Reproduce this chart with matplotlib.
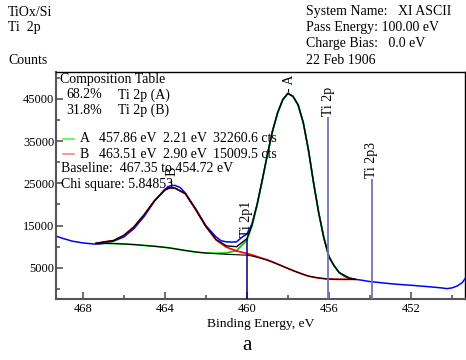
import numpy as np
import matplotlib
matplotlib.use('Agg')
import matplotlib.pyplot as plt

plt.rcParams['font.family'] = ['Liberation Serif', 'DejaVu Serif']
plt.rcParams['font.size'] = 10

# raw spectrum (blue)
e_data = [469.32, 469.0, 468.5, 468.0, 467.5, 467.25, 467.0, 466.5, 466.0, 465.5,
          465.0, 464.5, 464.0, 463.75, 463.5, 463.25, 463.0, 462.5, 462.0, 461.5,
          461.25, 461.0, 460.75, 460.5, 460.25, 460.0, 459.75, 459.5, 459.25, 459.0,
          458.75, 458.5, 458.25, 458.0, 457.75, 457.5, 457.25, 457.0, 456.75, 456.5,
          456.25, 456.0, 455.75, 455.5, 455.25, 455.0, 454.75, 454.5, 454.0, 453.5,
          453.0, 452.5, 452.0, 451.5, 451.0, 450.5, 450.25, 450.0, 449.75, 449.5, 449.35]
counts = [12530, 12000, 11300, 10900, 10650, 10600, 10750, 11300, 12300, 14300,
          17200, 20800, 23600, 24400, 24500, 24000, 22700, 19000, 15000, 12300,
          11400, 11150, 11100, 11150, 12200, 13000, 15400, 20000, 25700, 31800,
          37400, 41700, 44800, 46300, 45600, 43600, 39400, 33000, 25200, 18100,
          12200, 7700, 5500, 3900, 3000, 2550, 2300, 2150, 1750, 1500,
          1250, 1050, 880, 680, 480, 250, 80, 250, 700, 1500, 2500]

# fit: baseline and the two components (height above baseline)
e_fit = [467.35, 467.0, 466.5, 466.0, 465.5, 465.0, 464.5, 464.0, 463.75, 463.5,
         463.25, 463.0, 462.5, 462.0, 461.5, 461.0, 460.5, 460.0, 459.75, 459.5,
         459.25, 459.0, 458.75, 458.5, 458.25, 458.0, 457.75, 457.5, 457.25, 457.0,
         456.75, 456.5, 456.25, 456.0, 455.75, 455.5, 455.0, 454.72]
baseline = [10800, 10800, 10750, 10650, 10500, 10300, 10100, 9850, 9700, 9500,
            9300, 9100, 8750, 8500, 8350, 8200, 8100, 8000, 7800, 7500,
            7150, 6800, 6350, 5850, 5350, 4850, 4350, 3900, 3450, 3050,
            2800, 2600, 2450, 2350, 2300, 2280, 2270, 2270]
peak_a = [0, 0, 0, 0, 0, 0, 0, 0, 0, 0,
          0, 0, 0, 0, 100, 300, 1000, 3500, 7100, 12350,
          18500, 24900, 30900, 35800, 39400, 41400, 41200, 39600, 35900, 29900,
          22400, 15500, 9700, 5300, 3200, 1600, 280, 30]
peak_b = [0, 300, 700, 2000, 4200, 7300, 10800, 13550, 14250, 14350,
          13900, 13450, 10100, 6300, 3250, 1700, 900, 400, 250, 150,
          100, 80, 60, 40, 30, 20, 10, 0, 0, 0,
          0, 0, 0, 0, 0, 0, 0, 0]

# peak id markers
marker_pos = [460.0, 456.04, 453.92]
marker_top = [12000, 40700, 26000]
marker_names = ['Ti 2p1', 'Ti 2p', 'Ti 2p3']
marker_colors = ['#000080', '#7373b9', '#7373b9']

fig = plt.figure(figsize=(4.66, 3.6), dpi=100)
ax = fig.add_axes([0.1195, 0.1703, 0.879, 0.6305])

e_fit = np.array(e_fit)
bg = np.array(baseline)
pa = np.array(peak_a)
pb = np.array(peak_b)

ax.plot(e_data, counts, color='#0000ff', lw=1.1, zorder=2)
ax.plot(e_fit, bg + pa, color='#00d000', lw=1.25, zorder=3)
ax.plot(e_fit, bg + pb, color='#ff0000', lw=1.25, zorder=3)
ax.plot(e_fit, bg, color='black', lw=0.8, zorder=4)
ax.plot(e_fit, bg + pa + pb, color='black', lw=1.0, zorder=4)

ymin, ymax = -2300, 51400
for xp, top, name, col in zip(marker_pos, marker_top, marker_names, marker_colors):
    ax.vlines(xp, ymin, top, color=col, lw=1.3 if name != 'Ti 2p1' else 1.1, zorder=5)
    ax.text(xp, top + 300, name, rotation=90, ha='center', va='bottom', fontsize=10)

ax.text(457.94, 46700, '- A', rotation=90, ha='center', va='bottom', fontsize=10)
ax.text(463.62, 24800, '- B', rotation=90, ha='center', va='bottom', fontsize=10)

ax.set_xlim(469.32, 449.35)
ax.set_ylim(ymin, ymax)
ax.set_xticks([468, 464, 460, 456, 452])
ax.set_xticks([466, 462, 458, 454, 450], minor=True)
ax.set_yticks([5000, 15000, 25000, 35000, 45000])
ax.set_yticks([0, 10000, 20000, 30000, 40000, 50000], minor=True)
ax.tick_params(which='both', direction='in', color='#555555', width=1.2)
ax.tick_params(which='major', length=5, labelsize=9)
ax.tick_params(which='minor', length=3)
ax.tick_params(axis='x', pad=3)
ax.tick_params(axis='y', pad=1)
for s in ['left', 'bottom']:
    ax.spines[s].set_color('#555555')
    ax.spines[s].set_linewidth(1.5)
for s in ['right', 'top']:
    ax.spines[s].set_linewidth(1.0)
ax.set_xlabel('Binding Energy, eV', fontsize=9.7, labelpad=2)

W, H = 466.0, 360.0
def ftext(x, y, s, **kw):
    fig.text(x / W, 1 - y / H, s, va='center', ha='left', fontsize=10, **kw)

# header
ftext(8, 12, 'TiOx/Si')
ftext(8, 28, 'Ti  2p')
ftext(8, 60, 'Counts')
ftext(306, 12, 'System Name:   XI ASCII')
ftext(306, 28, 'Pass Energy: 100.00 eV')
ftext(306, 44, 'Charge Bias:   0.0 eV')
ftext(306, 60, '22 Feb 1906')

# composition table
ftext(60, 80, 'Composition Table')
ftext(66, 95, '68.2%')
ftext(118, 95, 'Ti 2p (A)')
ftext(66, 110, '31.8%')
ftext(118, 110, 'Ti 2p (B)')
for y, lc, lab, pos, fw, area in [(139, '#40ff40', 'A', '457.86 eV', '2.21 eV', '32260.6 cts'),
                                   (154, '#ff8080', 'B', '463.51 eV', '2.90 eV', '15009.5 cts')]:
    fig.add_artist(plt.Line2D([63 / W, 74 / W], [1 - y / H, 1 - y / H], color=lc, lw=1.2))
    ftext(80, y, lab)
    ftext(99, y, pos)
    ftext(163, y, fw)
    ftext(213, y, area)
ftext(61, 169, 'Baseline:  467.35 to 454.72 eV')
ftext(61, 185, 'Chi square: 5.84853')

fig.text(247 / W, 1 - 346 / H, 'a', ha='center', va='center', fontsize=15)

fig.savefig('out.png', dpi=100)
